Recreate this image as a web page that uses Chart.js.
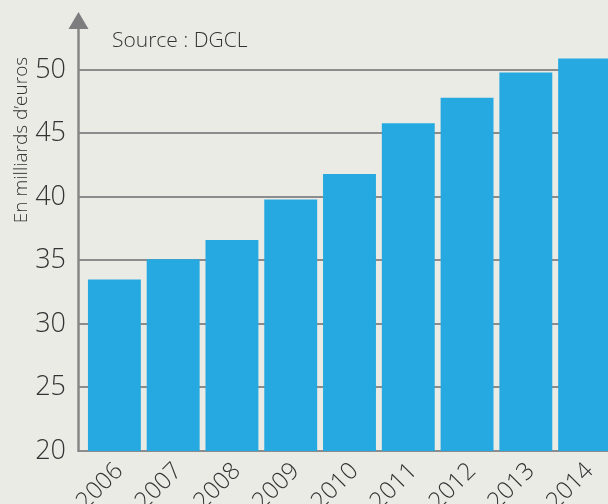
<!DOCTYPE html>
<html>
<head>
<meta charset="utf-8">
<script src="https://cdn.jsdelivr.net/npm/chart.js@4"></script>
<style>
    html, body { margin: 0; padding: 0; background: #ebebe6; overflow: hidden; }
    .chart-box { width: 614px; height: 504px; position: relative; }
</style>
</head>
<body>
<div class="chart-box"><canvas id="budgetChart"></canvas></div>
<script>
const years = ['2006', '2007', '2008', '2009', '2010', '2011', '2012', '2013', '2014'];
const amounts = [33.5, 35.1, 36.6, 39.8, 41.8, 45.8, 47.8, 49.8, 50.9];
const yTicks = [20, 25, 30, 35, 40, 45, 50];

const FONT = '"Open Sans", "DejaVu Sans", sans-serif';

// axis line with arrow, axis title and source note
const decorPlugin = {
    id: 'decor',
    afterDraw(chart) {
        const ctx = chart.ctx;
        const area = chart.chartArea;
        const axisX = area.left - 6.5;
        ctx.save();
        ctx.strokeStyle = '#878787';
        ctx.lineWidth = 2.5;
        ctx.beginPath();
        ctx.moveTo(axisX, area.bottom + 1);
        ctx.lineTo(axisX, 26);
        ctx.stroke();
        ctx.fillStyle = '#7d7d80';
        ctx.beginPath();
        ctx.moveTo(axisX - 10, 29);
        ctx.lineTo(axisX + 10, 29);
        ctx.lineTo(axisX, 12);
        ctx.closePath();
        ctx.fill();

        ctx.fillStyle = '#333333';
        ctx.font = '300 21px ' + FONT;
        ctx.textAlign = 'left';
        ctx.textBaseline = 'middle';
        ctx.fillText('Source : DGCL', 112, 41);

        ctx.translate(22, 140);
        ctx.rotate(-Math.PI / 2);
        ctx.font = '300 19px ' + FONT;
        ctx.textAlign = 'center';
        ctx.fillText('En milliards d\u2019euros', 0, 0);
        ctx.restore();
    }
};

new Chart(document.getElementById('budgetChart').getContext('2d'), {
    type: 'bar',
    data: {
        labels: years,
        datasets: [{
            data: amounts,
            backgroundColor: '#25a9e0',
            borderWidth: 0,
            barPercentage: 0.9,
            categoryPercentage: 1
        }]
    },
    options: {
        responsive: true,
        maintainAspectRatio: false,
        animation: false,
        layout: { padding: { top: 8, right: 0, left: 0, bottom: 0 } },
        plugins: { legend: { display: false }, tooltip: { enabled: false } },
        scales: {
            x: {
                grid: { display: false },
                border: { display: false },
                ticks: {
                    color: '#333333',
                    font: { family: FONT, size: 24, weight: '300' },
                    minRotation: 45,
                    maxRotation: 45,
                    padding: -2,
                    labelOffset: 5
                },
                afterFit: scale => { scale.height = 53; }
            },
            y: {
                min: 20,
                max: 53.2,
                afterBuildTicks: axis => { axis.ticks = yTicks.map(v => ({ value: v })); },
                grid: { color: '#8c8c8c', lineWidth: 2, tickLength: 6 },
                border: { display: false },
                ticks: {
                    color: '#333333',
                    font: { family: FONT, size: 27, weight: '300' },
                    padding: 13
                },
                afterFit: scale => { scale.width = 85; }
            }
        }
    },
    plugins: [decorPlugin]
});
</script>
</body>
</html>
